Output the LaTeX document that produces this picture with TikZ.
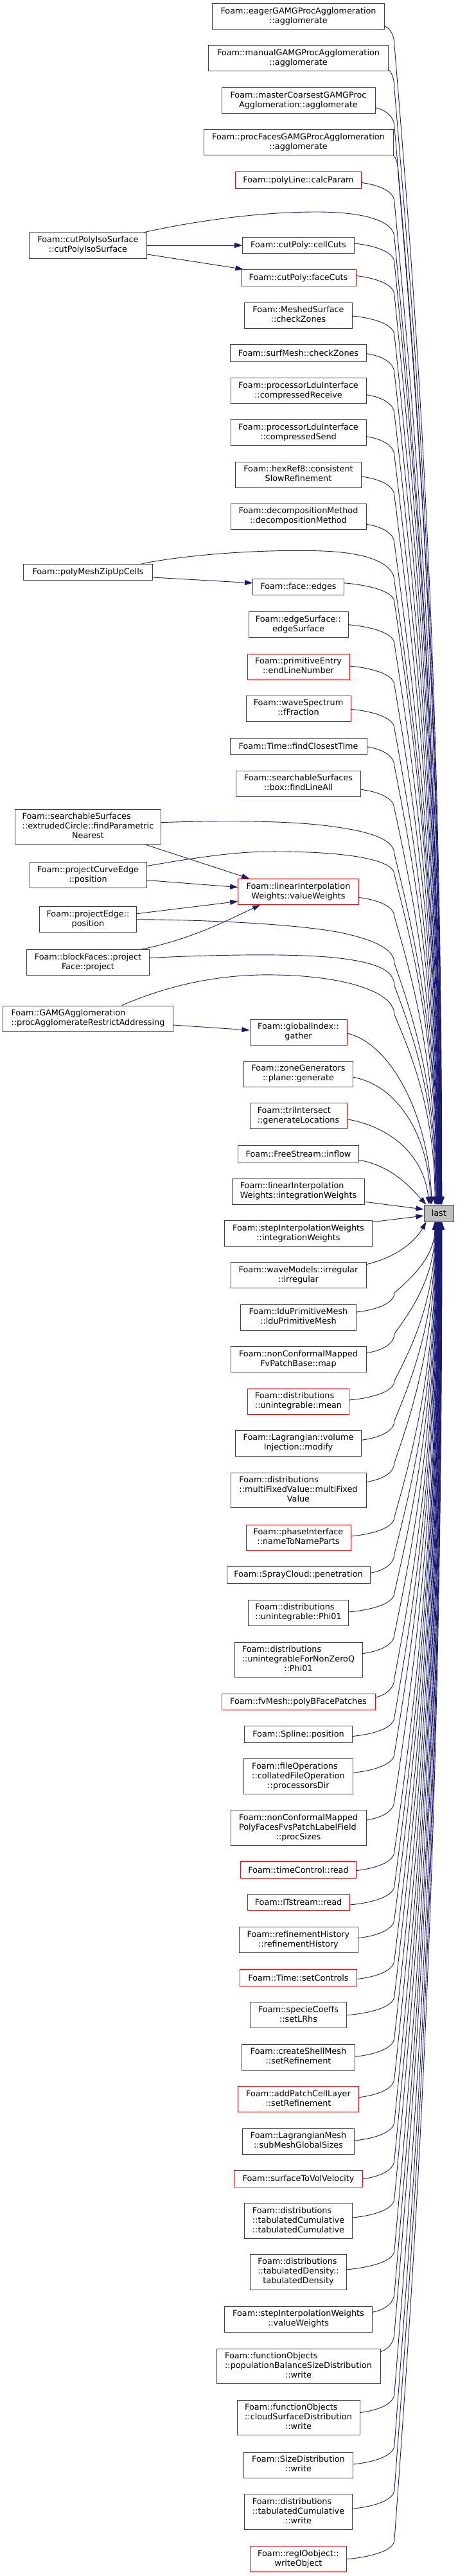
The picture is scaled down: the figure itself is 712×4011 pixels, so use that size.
\documentclass[tikz,border=0pt]{standalone}
\usepackage{fontspec}
\newfontfamily\dvs{DejaVu Sans}
\usetikzlibrary{calc,arrows.meta}
\definecolor{edgeblue}{HTML}{191970}
\definecolor{boxgray}{HTML}{404040}
\definecolor{lastgray}{HTML}{BFBFBF}
\definecolor{trred}{HTML}{FF0000}
\newcommand\nlab[2]{\begin{tabular}{@{}l@{}}#1\\\multicolumn{1}{@{}c@{}}{#2}\end{tabular}}
% generic edge from a node above "last": #1 name, #2 yc, #3 right x, #4 start dy, #5 tip x
\newcommand\upE[5]{%
 \pgfmathsetmacro\zSy{#2+#4}%
 \pgfmathsetmacro\zBx{max(614,#3+8)}%
 \pgfmathsetmacro\zBy{\zSy+30}%
 \pgfmathsetmacro\zCax{#3+0.6*(\zBx-#3)}%
 \pgfmathsetmacro\zCay{\zSy+4}%
 \pgfmathsetmacro\zCby{\zBy-15}%
 \pgfmathsetmacro\zL{1876-\zBy}%
 \pgfmathsetmacro\zDax{\zBx+0.4*(#5-\zBx)}%
 \pgfmathsetmacro\zDay{\zBy+0.2*\zL}%
 \pgfmathsetmacro\zDby{\zBy+0.5*\zL}%
 \pgfmathsetmacro\zTdx{#5-683.35}%
 \draw[conn] ($(#1.east)+(0,#4)$) .. controls (\zCax,\zCay) and (\zBx,\zCby) .. (\zBx,\zBy) .. controls (\zDax,\zDay) and (#5,\zDby) .. ($(last.north)+(\zTdx,0)$);}
% generic edge from a node below "last"
\newcommand\dnE[5]{%
 \pgfmathsetmacro\zSy{#2+#4}%
 \pgfmathsetmacro\zBx{max(614,#3+8)}%
 \pgfmathsetmacro\zBy{\zSy-30}%
 \pgfmathsetmacro\zCax{#3+0.6*(\zBx-#3)}%
 \pgfmathsetmacro\zCay{\zSy-4}%
 \pgfmathsetmacro\zCby{\zBy+15}%
 \pgfmathsetmacro\zL{\zBy-1902}%
 \pgfmathsetmacro\zDax{\zBx+0.4*(#5-\zBx)}%
 \pgfmathsetmacro\zDay{\zBy-0.2*\zL}%
 \pgfmathsetmacro\zDby{\zBy-0.5*\zL}%
 \pgfmathsetmacro\zTdx{#5-683.35}%
 \draw[conn] ($(#1.east)+(0,#4)$) .. controls (\zCax,\zCay) and (\zBx,\zCby) .. (\zBx,\zBy) .. controls (\zDax,\zDay) and (#5,\zDby) .. ($(last.south)+(\zTdx,0)$);}
% edge whose path (arg 1) ends at (614,#2), continued down to last
\newcommand\viaUp[3]{%
 \pgfmathsetmacro\zL{1876-#2}%
 \pgfmathsetmacro\zDax{614+0.4*(#3-614)}%
 \pgfmathsetmacro\zDay{#2+0.2*\zL}%
 \pgfmathsetmacro\zDby{#2+0.5*\zL}%
 \pgfmathsetmacro\zTdx{#3-683.35}%
 \draw[conn] #1 .. controls (\zDax,\zDay) and (#3,\zDby) .. ($(last.north)+(\zTdx,0)$);}
\tikzset{
 nb/.style={draw=boxgray, line width=1pt, fill=white, inner xsep=2pt, inner ysep=0pt,
   minimum width=#1, font=\dvs\fontsize{12.8}{15}\selectfont},
 h1/.style={minimum height=25.6pt},
 h2/.style={minimum height=40pt},
 h3/.style={minimum height=54.5pt},
 rb/.style={draw=trred},
 conn/.style={draw=edgeblue, line width=0.9pt, -{Triangle[length=12pt,width=8pt]}}
}
\begin{document}
\begin{tikzpicture}[x=1pt,y=-1pt]
\useasboundingbox (0,0) rectangle (712,4011);
% left column
\node[nb=183.4pt,h2] (L1) at (137,382) {\nlab{Foam::cutPolyIsoSurface}{::cutPolyIsoSurface}};
\node[nb=200.6pt,h1] (L2) at (137,891) {Foam::polyMeshZipUpCells};
\node[nb=227.4pt,h3] (L3) at (137,1287.6) {\nlab{Foam::searchableSurfaces\\::extrudedCircle::findParametric}{Nearest}};
\node[nb=182pt,h2] (L4) at (137,1362.5) {\nlab{Foam::projectCurveEdge}{::position}};
\node[nb=151pt,h2] (L5) at (137,1431.7) {\nlab{Foam::projectEdge::}{position}};
\node[nb=191.4pt,h2] (L6) at (137,1498.5) {\nlab{Foam::blockFaces::project}{Face::project}};
\node[nb=264.6pt,h2] (L7) at (137,1586) {\nlab{Foam::GAMGAgglomeration}{::procAgglomerateRestrictAddressing}};
% middle column
\node[nb=268.4pt,h2] (n1) at (464.5,25.7) {\nlab{Foam::eagerGAMGProcAgglomeration}{::agglomerate}};
\node[nb=280.4pt,h2] (n2) at (464.5,91) {\nlab{Foam::manualGAMGProcAgglomeration}{::agglomerate}};
\node[nb=239pt,h2] (n3) at (464.5,156.7) {\nlab{Foam::masterCoarsestGAMGProc}{Agglomeration::agglomerate}};
\node[nb=295pt,h2] (n4) at (464.5,222) {\nlab{Foam::procFacesGAMGProcAgglomeration}{::agglomerate}};
\node[nb=196.4pt,h1,rb] (n5) at (464.5,280.5) {Foam::polyLine::calcParam};
\node[nb=173.6pt,h1] (n6) at (464.5,382) {Foam::cutPoly::cellCuts};
\node[nb=179pt,h1,rb] (n7) at (464.5,432.5) {Foam::cutPoly::faceCuts};
\node[nb=167.6pt,h2] (n8) at (464.5,491) {\nlab{Foam::MeshedSurface}{::checkZones}};
\node[nb=212.4pt,h1] (n9) at (464.5,549.7) {Foam::surfMesh::checkZones};
\node[nb=211pt,h2] (n10) at (464.5,608.7) {\nlab{Foam::processorLduInterface}{::compressedReceive}};
\node[nb=211pt,h2] (n11) at (464.5,673.7) {\nlab{Foam::processorLduInterface}{::compressedSend}};
\node[nb=195.6pt,h2] (n12) at (464.5,739) {\nlab{Foam::hexRef8::consistent}{SlowRefinement}};
\node[nb=211pt,h2] (n13) at (464.5,804.3) {\nlab{Foam::decompositionMethod}{::decompositionMethod}};
\node[nb=141.6pt,h1] (n14) at (464.5,913.8) {Foam::face::edges};
\node[nb=155pt,h2] (n15) at (464.5,972.7) {\nlab{Foam::edgeSurface::}{edgeSurface}};
\node[nb=159pt,h2,rb] (n16) at (464.5,1038) {\nlab{Foam::primitiveEntry}{::endLineNumber}};
\node[nb=163pt,h2,rb] (n17) at (464.5,1103.3) {\nlab{Foam::waveSpectrum}{::fFraction}};
\node[nb=213pt,h1] (n18) at (464.5,1161.8) {Foam::Time::findClosestTime};
\node[nb=194.4pt,h2] (n19) at (464.5,1220.3) {\nlab{Foam::searchableSurfaces}{::box::findLineAll}};
\node[nb=187.6pt,h2,rb] (n20) at (464.5,1388.5) {\nlab{Foam::linearInterpolation}{Weights::valueWeights}};
\node[nb=151pt,h2,rb] (n21) at (464.5,1607) {\nlab{Foam::globalIndex::}{gather}};
\node[nb=169.6pt,h2] (n22) at (464.5,1672.3) {\nlab{Foam::zoneGenerators}{::plane::generate}};
\node[nb=151pt,h2,rb] (n23) at (464.5,1737.7) {\nlab{Foam::triIntersect}{::generateLocations}};
\node[nb=188.4pt,h1] (n24) at (464.5,1796.3) {Foam::FreeStream::inflow};
\node[nb=206.4pt,h2] (n25) at (464.5,1855.3) {\nlab{Foam::linearInterpolation}{Weights::integrationWeights}};
\node[nb=229.6pt,h2] (n26) at (464.5,1920.7) {\nlab{Foam::stepInterpolationWeights}{::integrationWeights}};
\node[nb=211pt,h2] (n27) at (464.5,1985.7) {\nlab{Foam::waveModels::irregular}{::irregular}};
\node[nb=179.6pt,h2] (n28) at (464.5,2051) {\nlab{Foam::lduPrimitiveMesh}{::lduPrimitiveMesh}};
\node[nb=211pt,h2] (n29) at (464.5,2116.7) {\nlab{Foam::nonConformalMapped}{FvPatchBase::map}};
\node[nb=157.6pt,h2,rb] (n30) at (464.5,2182) {\nlab{Foam::distributions}{::unintegrable::mean}};
\node[nb=195.6pt,h2] (n31) at (464.5,2247.3) {\nlab{Foam::Lagrangian::volume}{Injection::modify}};
\node[nb=211pt,h3] (n32) at (464.5,2320.5) {\nlab{Foam::distributions\\::multiFixedValue::multiFixed}{Value}};
\node[nb=163pt,h2,rb] (n33) at (464.5,2394) {\nlab{Foam::phaseInterface}{::nameToNameParts}};
\node[nb=223pt,h1] (n34) at (464.5,2452.3) {Foam::SprayCloud::penetration};
\node[nb=156.4pt,h2] (n35) at (464.5,2511) {\nlab{Foam::distributions}{::unintegrable::Phi01}};
\node[nb=199pt,h3] (n36) at (464.5,2584.7) {\nlab{Foam::distributions\\::unintegrableForNonZeroQ}{::Phi01}};
\node[nb=239pt,h1,rb] (n37) at (464.5,2650) {Foam::fvMesh::polyBFacePatches};
\node[nb=167.6pt,h1] (n38) at (464.5,2700.5) {Foam::Spline::position};
\node[nb=169.6pt,h3] (n39) at (464.5,2766.2) {\nlab{Foam::fileOperations\\::collatedFileOperation}{::processorsDir}};
\node[nb=211pt,h3] (n40) at (464.5,2846) {\nlab{Foam::nonConformalMapped\\PolyFacesFvsPatchLabelField}{::procSizes}};
\node[nb=180.4pt,h1,rb] (n41) at (464.5,2911.5) {Foam::timeControl::read};
\node[nb=159pt,h1,rb] (n42) at (464.5,2962) {Foam::ITstream::read};
\node[nb=185pt,h2] (n43) at (464.5,3020.7) {\nlab{Foam::refinementHistory}{::refinementHistory}};
\node[nb=181.6pt,h1,rb] (n44) at (464.5,3079.5) {Foam::Time::setControls};
\node[nb=149.6pt,h2,rb] (n45) at (464.5,3137.8) {\nlab{Foam::specieCoeffs}{::setLRhs}};
\node[nb=175.6pt,h2] (n46) at (464.5,3203.3) {\nlab{Foam::createShellMesh}{::setRefinement}};
\node[nb=187.6pt,h2,rb] (n47) at (464.5,3268.7) {\nlab{Foam::addPatchCellLayer}{::setRefinement}};
\node[nb=174.4pt,h2] (n48) at (464.5,3334) {\nlab{Foam::LagrangianMesh}{::subMeshGlobalSizes}};
\node[nb=200.4pt,h1,rb] (n49) at (464.5,3392.7) {Foam::surfaceToVolVelocity};
\node[nb=167.6pt,h3] (n50) at (464.5,3458) {\nlab{Foam::distributions\\::tabulatedCumulative}{::tabulatedCumulative}};
\node[nb=149.6pt,h3] (n51) at (464.5,3537.8) {\nlab{Foam::distributions\\::tabulatedDensity::}{tabulatedDensity}};
\node[nb=229.6pt,h2] (n52) at (464.5,3611.2) {\nlab{Foam::stepInterpolationWeights}{::valueWeights}};
\node[nb=255pt,h3] (n53) at (464.5,3684.7) {\nlab{Foam::functionObjects\\::populationBalanceSizeDistribution}{::write}};
\node[nb=191pt,h3] (n54) at (464.5,3764.5) {\nlab{Foam::functionObjects\\::cloudSurfaceDistribution}{::write}};
\node[nb=169.6pt,h2] (n55) at (464.5,3838) {\nlab{Foam::SizeDistribution}{::write}};
\node[nb=167.6pt,h3] (n56) at (464.5,3911.2) {\nlab{Foam::distributions\\::tabulatedCumulative}{::write}};
\node[nb=149.6pt,h2,rb] (n57) at (464.5,3984.7) {\nlab{Foam::regIOobject::}{writeObject}};
% target
\node[nb=46.7pt,fill=lastgray,minimum height=26pt] (last) at (683.35,1889) {last};
% left column edges
\draw[conn] (L1.east) -- (n6.west);
\draw[conn] ($(L1.east)+(0,14)$) -- ($(n7.north west)+(4,0)$);
\viaUp{($(L1.north east)+(-4,0)$) .. controls (300,345) and (400,330) .. (493,330) .. controls (570,330) and (614,345) .. (614,370)}{370}{685}
\viaUp{($(L2.north east)+(-17,0)$) .. controls (300,862) and (420,855) .. (503,858) .. controls (580,861) and (614,880) .. (614,905)}{905}{683}
\draw[conn] ($(L2.east)+(0,8)$) -- ($(n14.west)+(0,-6)$);
\viaUp{($(L3.east)+(0,-7)$) .. controls (330,1278) and (430,1277) .. (503,1285) .. controls (570,1293) and (614,1305) .. (614,1330)}{1330}{681}
\draw[conn] ($(L3.south east)+(-24,0)$) -- ($(n20.north west)+(18,0)$);
\viaUp{($(L4.east)+(0,-14)$) .. controls (300,1336) and (360,1327) .. (413,1326) .. controls (520,1325) and (614,1335) .. (614,1362)}{1362}{680}
\draw[conn] ($(L4.east)+(0,8)$) -- ($(n20.west)+(0,-7)$);
\draw[conn] ($(L5.east)+(0,-9)$) -- ($(n20.west)+(0,15)$);
\viaUp{(L5.east) .. controls (300,1432) and (450,1437) .. (530,1452) .. controls (590,1465) and (614,1480) .. (614,1500)}{1500}{679}
\draw[conn] ($(L6.north east)+(-12.7,0)$) .. controls (300,1462) and (360,1430) .. ($(n20.south west)+(35,0)$);
\viaUp{($(L6.east)+(0,-7)$) .. controls (320,1487) and (450,1484) .. (520,1491) .. controls (585,1498) and (614,1510) .. (614,1535)}{1535}{678}
\viaUp{($(L7.north west)+(185.3,0)$) .. controls (260,1535) and (330,1520) .. (403,1518) .. controls (520,1516) and (614,1540) .. (614,1580)}{1580}{677}
\draw[conn] ($(L7.east)+(0,10)$) -- ($(n21.west)+(0,-3)$);
% middle column edges (above)
\upE{n1}{25.7}{598.7}{15}{687.8}
\upE{n2}{91}{604.7}{18}{687.4}
\upE{n3}{156.7}{584}{11}{687.0}
\upE{n4}{222}{612}{20}{686.6}
\upE{n5}{280.5}{562.7}{4}{686.2}
\upE{n6}{382}{551.3}{-3}{685.6}
\upE{n7}{432.5}{554}{-3}{685.2}
\upE{n8}{491}{548.3}{1}{684.9}
\upE{n9}{549.7}{570.7}{1}{684.5}
\upE{n10}{608.7}{570}{6}{684.1}
\upE{n11}{673.7}{570}{6}{683.7}
\upE{n12}{739}{562.3}{3}{683.3}
\upE{n13}{804.3}{570}{12}{682.9}
\upE{n14}{913.8}{535.3}{-6}{682.2}
\upE{n15}{972.7}{542}{0}{681.8}
\upE{n16}{1038}{544}{-1}{681.4}
\upE{n17}{1103.3}{546}{1}{681.0}
\upE{n18}{1161.8}{571}{1}{680.6}
\upE{n19}{1220.3}{561.7}{9}{680.2}
\upE{n20}{1388.5}{558.3}{9}{679.1}
\draw[conn] ($(n21.east)+(0,2)$) .. controls (610,1625) and (668,1740) .. ($(last.north)+(-11.35,0)$);
\draw[conn] ($(n22.east)+(0,5)$) .. controls (620,1690) and (668,1770) .. ($(last.north)+(-13.35,0)$);
\draw[conn] ($(n23.east)+(0,5)$) .. controls (610,1755) and (660,1800) .. ($(last.north)+(-15.35,0)$);
\draw[conn] ($(n24.east)+(0,10)$) .. controls (610,1815) and (640,1850) .. ($(last.north west)+(4,0)$);
\draw[conn] ($(n25.east)+(0,16)$) -- ($(last.west)+(0,-6)$);
\draw[conn] ($(n26.east)+(0,-18)$) -- ($(last.west)+(0,4)$);
\draw[conn] ($(n27.east)+(0,-17)$) .. controls (615,1958) and (645,1935) .. ($(last.south west)+(4,0)$);
% middle column edges (below)
\dnE{n28}{2051}{554.3}{-8}{676.9}
\dnE{n29}{2116.7}{570}{-10}{677.2}
\dnE{n30}{2182}{543.3}{-2}{677.6}
\dnE{n31}{2247.3}{562.3}{-5}{678.0}
\dnE{n32}{2320.5}{570}{-13}{678.4}
\dnE{n33}{2394}{546}{-2}{678.8}
\dnE{n34}{2452.3}{576}{-3}{679.2}
\dnE{n35}{2511}{542.7}{-1}{679.5}
\dnE{n36}{2584.7}{564}{-10}{679.9}
\dnE{n37}{2650}{584}{-7}{680.3}
\dnE{n38}{2700.5}{548.3}{3}{680.6}
\dnE{n39}{2766.2}{549.3}{-6}{681.0}
\dnE{n40}{2846}{570}{-12}{681.4}
\dnE{n41}{2911.5}{554.7}{1}{681.8}
\dnE{n42}{2962}{544}{4}{682.1}
\dnE{n43}{3020.7}{557}{-3}{682.4}
\dnE{n44}{3079.5}{555.3}{2}{682.8}
\dnE{n45}{3137.8}{539.3}{0}{683.1}
\dnE{n46}{3203.3}{552.3}{-1}{683.5}
\dnE{n47}{3268.7}{558.3}{-3}{683.9}
\dnE{n48}{3334}{551.7}{-1}{684.2}
\dnE{n49}{3392.7}{564.7}{0}{684.6}
\dnE{n50}{3458}{548.3}{-5}{685.0}
\dnE{n51}{3537.8}{539.3}{-4}{685.4}
\dnE{n52}{3611.2}{579.3}{-11}{685.9}
\dnE{n53}{3684.7}{592}{-23}{686.3}
\dnE{n54}{3764.5}{560}{-8}{686.7}
\dnE{n55}{3838}{549.3}{-1}{687.2}
\dnE{n56}{3911.2}{548.3}{-5}{687.6}
\dnE{n57}{3984.7}{539.3}{0}{688.0}
\end{tikzpicture}
\end{document}
